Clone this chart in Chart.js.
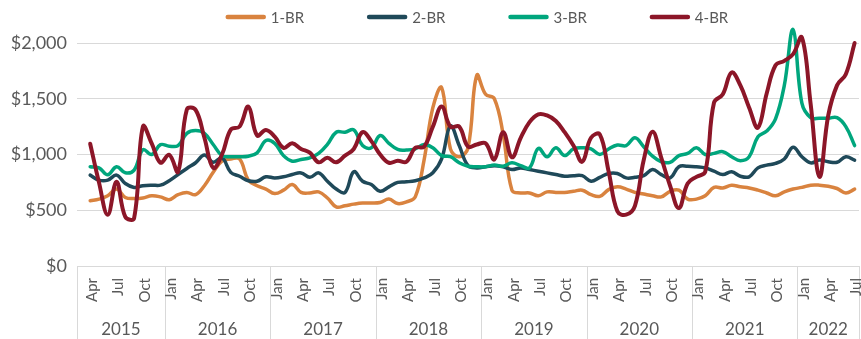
<!DOCTYPE html>
<html>
<head>
<meta charset="utf-8">
<script src="https://cdn.jsdelivr.net/npm/chart.js@4"></script>
<style>
  html, body { margin: 0; padding: 0; background: #ffffff; }
  #wrap { width: 861px; height: 339px; position: relative; }
</style>
</head>
<body>
<div id="wrap"><canvas id="rent"></canvas></div>
<script>
// Monthly categories: Mar 2015 (no data) through Jul 2022
const years = [2015, 2016, 2017, 2018, 2019, 2020, 2021, 2022];
const monthNames = ['Jan','Feb','Mar','Apr','May','Jun','Jul','Aug','Sep','Oct','Nov','Dec'];
const categories = [];
for (const y of years) {
  for (let m = 0; m < 12; m++) {
    if (y === 2015 && m < 2) continue;
    if (y === 2022 && m > 6) continue;
    categories.push({ year: y, month: monthNames[m] });
  }
}
const tickMonths = ['Jan', 'Apr', 'Jul', 'Oct'];

const seriesNames = ['1-BR', '2-BR', '3-BR', '4-BR'];
const seriesColors = ['#D9833F', '#1F4959', '#00A67D', '#8C1628'];

// Median rent, Apr 2015 – Jul 2022 (Mar 2015 left empty)
const rent1BR = [null,
  585, 600, 630, 690, 615, 605, 610, 630, 620,
  595, 640, 660, 640, 720, 840, 940, 960, 960, 770, 720, 690,
  650, 680, 730, 660, 655, 665, 610, 530, 540, 555, 565, 565,
  570, 600, 560, 575, 620, 950, 1420, 1600, 1050, 980, 1060, 1710,
  1540, 1500, 1180, 680, 655, 655, 630, 665, 660, 660, 670, 680,
  640, 625, 685, 710, 690, 660, 645, 630, 620, 670, 680, 600,
  600, 630, 705, 700, 725, 710, 700, 680, 655, 630, 665, 690,
  705, 725, 725, 715, 695, 655, 690];

const rent2BR = [null,
  815, 770, 770, 815, 740, 705, 720, 725, 725,
  765, 820, 875, 926, 995, 930, 970, 840, 805, 765, 760, 800,
  790, 800, 820, 835, 795, 835, 760, 690, 660, 845, 760, 730,
  670, 710, 750, 755, 765, 790, 836, 960, 1255, 1080, 900, 880,
  890, 900, 890, 865, 880, 865, 850, 835, 820, 805, 810, 810,
  760, 795, 830, 830, 790, 795, 810, 865, 820, 790, 890, 895,
  890, 880, 850, 820, 845, 805, 800, 880, 905, 920, 960, 1065,
  980, 925, 950, 935, 930, 980, 950];

const rent3BR = [null,
  890, 880, 818, 890, 836, 860, 1043, 1000, 1088,
  1075, 1080, 1190, 1215, 1190, 1090, 990, 980, 980, 985, 1015, 1125,
  1100, 990, 940, 955, 970, 1010, 1090, 1200, 1200, 1220, 1080, 1060,
  1170, 1100, 1045, 1040, 1050, 1090, 1060, 990, 980, 926, 895, 890,
  890, 905, 895, 925, 900, 880, 1055, 980, 1060, 990, 1050, 1060,
  1050, 1000, 1050, 1085, 1080, 1150, 1070, 985, 935, 930, 990, 1010,
  1060, 1000, 1010, 1025, 980, 945, 980, 1160, 1210, 1320, 1620, 2120,
  1460, 1330, 1325, 1325, 1330, 1250, 1080];

const rent4BR = [null,
  1097, 750, 460, 755, 440, 430, 1250, 1100, 926,
  998, 845, 1403, 1400, 1150, 880, 1000, 1223, 1250, 1430, 1170, 1220,
  1160, 1060, 1100, 1050, 1016, 930, 970, 930, 990, 1050, 1200, 1120,
  1000, 926, 944, 935, 1060, 1070, 1250, 1430, 1250, 1250, 1070, 1090,
  1100, 955, 1200, 975, 1150, 1290, 1360, 1350, 1300, 1200, 1080, 935,
  1150, 1180, 850, 490, 460, 540, 950, 1205, 970, 720, 520, 740,
  800, 845, 1466, 1540, 1736, 1620, 1420, 1241, 1550, 1800, 1840, 1900,
  2050, 1450, 800, 1350, 1620, 1720, 2000];

const yTicks = [0, 500, 1000, 1500, 2000];

const FONT = 'Lato, "Liberation Sans", sans-serif';
const TEXT = '#595959';
const RULE = '#D9D9D9';

// Legend, two-level month/year axis and frame lines
const decorations = {
  id: 'decorations',
  afterDraw(chart) {
    const ctx = chart.ctx;
    const x = chart.scales.x;
    const area = chart.chartArea;
    const bottom = chart.height;
    const half = (x.getPixelForValue(1) - x.getPixelForValue(0)) / 2;

    ctx.save();
    // axis line
    ctx.strokeStyle = RULE;
    ctx.lineWidth = 1;
    ctx.beginPath();
    ctx.moveTo(area.left, area.bottom + 0.5);
    ctx.lineTo(area.right, area.bottom + 0.5);
    ctx.stroke();

    // year separators
    const bounds = [];
    categories.forEach((c, i) => {
      if (i === 0 || c.year !== categories[i - 1].year) bounds.push(i);
    });
    const edges = bounds.map(i => x.getPixelForValue(i) - half);
    edges.push(x.getPixelForValue(categories.length - 1) + half);
    ctx.beginPath();
    edges.forEach(px => {
      const sx = Math.round(px) + 0.5;
      ctx.moveTo(sx, area.bottom);
      ctx.lineTo(sx, bottom);
    });
    ctx.stroke();

    // month labels (rotated)
    ctx.fillStyle = TEXT;
    ctx.font = '15px ' + FONT;
    ctx.textAlign = 'right';
    ctx.textBaseline = 'middle';
    categories.forEach((c, i) => {
      if (i === 0 || !tickMonths.includes(c.month)) return;
      const px = x.getPixelForValue(i) + 2;
      ctx.save();
      ctx.translate(px, area.bottom + 12);
      ctx.rotate(-Math.PI / 2);
      ctx.fillText(c.month, 0, 0);
      ctx.restore();
    });

    // year labels
    ctx.font = '17px ' + FONT;
    ctx.textAlign = 'center';
    bounds.forEach((b, k) => {
      const cx = (edges[k] + edges[k + 1]) / 2;
      ctx.fillText(String(categories[b].year), cx, area.bottom + 64);
    });

    // legend
    ctx.font = '15px ' + FONT;
    ctx.textAlign = 'left';
    const lineLen = 40, textGap = 5, itemGap = 63;
    const widths = seriesNames.map(n => lineLen + textGap + ctx.measureText(n).width);
    const total = widths.reduce((a, b) => a + b, 0) + itemGap * (seriesNames.length - 1);
    let lx = 477 - total / 2;
    const ly = 17;
    seriesNames.forEach((n, k) => {
      ctx.strokeStyle = seriesColors[k];
      ctx.lineWidth = 4.5;
      ctx.lineCap = 'round';
      ctx.beginPath();
      ctx.moveTo(lx + 2, ly);
      ctx.lineTo(lx + lineLen - 2, ly);
      ctx.stroke();
      ctx.fillStyle = TEXT;
      ctx.fillText(n, lx + lineLen + textGap, ly + 1);
      lx += widths[k] + itemGap;
    });
    ctx.restore();
  }
};

// later series are painted over earlier ones
const datasets = [rent1BR, rent2BR, rent3BR, rent4BR].map((vals, k) => ({
  label: seriesNames[k],
  data: vals,
  borderColor: seriesColors[k],
  backgroundColor: seriesColors[k],
  borderWidth: k === 3 ? 4 : 3.5,
  pointRadius: 0,
  tension: 0.4,
  borderCapStyle: 'round',
  borderJoinStyle: 'round',
  clip: false,
  order: 3 - k
}));

new Chart(document.getElementById('rent'), {
  type: 'line',
  data: {
    labels: categories.map(c => c.month + ' ' + c.year),
    datasets: datasets
  },
  options: {
    responsive: true,
    maintainAspectRatio: false,
    animation: false,
    devicePixelRatio: 1,
    layout: { padding: { top: 43, right: 2, left: 0, bottom: 0 } },
    plugins: { legend: { display: false }, tooltip: { enabled: false } },
    scales: {
      x: {
        type: 'category',
        offset: true,
        grid: { display: false },
        border: { display: false },
        ticks: { display: false },
        afterFit(scale) { scale.height = 73; }
      },
      y: {
        min: 0,
        max: 2000,
        afterBuildTicks(scale) { scale.ticks = yTicks.map(v => ({ value: v })); },
        grid: { color: RULE, drawTicks: false, lineWidth: 1 },
        border: { display: false },
        ticks: {
          padding: 10,
          color: TEXT,
          font: { family: FONT, size: 18 },
          callback: v => '$' + v.toLocaleString('en-US')
        },
        afterFit(scale) { scale.width = 77; }
      }
    }
  },
  plugins: [decorations]
});
</script>
</body>
</html>
